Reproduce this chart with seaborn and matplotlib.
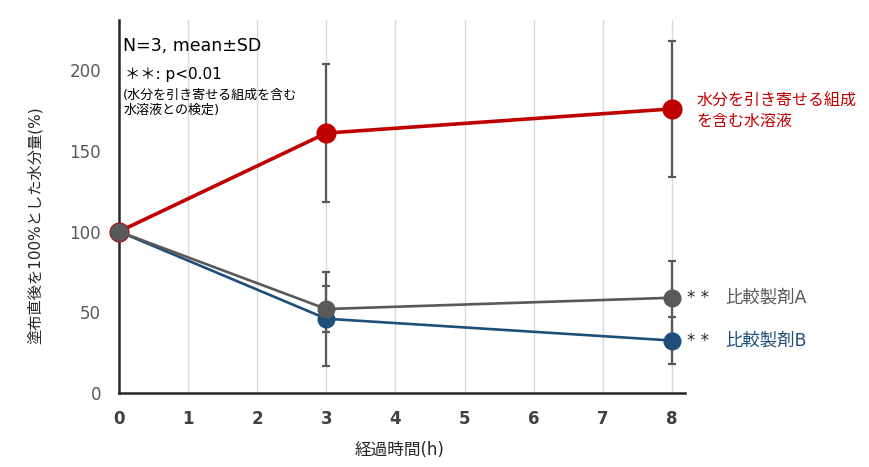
import numpy as np
import pandas as pd
import matplotlib
matplotlib.use('Agg')
import matplotlib.pyplot as plt
import seaborn as sns

# values
hours = [0, 3, 8]
series_names = ['水分を引き寄せる組成を含む水溶液', '比較製剤A', '比較製剤B']
mean_red = [100, 161, 176]
sd_red = [0, 43, 42]
mean_a = [100, 52, 59]
sd_a = [0, 14, 22.5]
mean_b = [100, 46, 32.5]
sd_b = [0, 29, 14.5]
x_ticks = [0, 1, 2, 3, 4, 5, 6, 7, 8]
y_ticks = [0, 50, 100, 150, 200]

colors = {'水分を引き寄せる組成を含む水溶液': '#C00000', '比較製剤A': '#595959', '比較製剤B': '#1F4E79'}

df = pd.DataFrame({
    'time': hours * 3,
    'value': mean_red + mean_a + mean_b,
    'sd': sd_red + sd_a + sd_b,
    'group': [s for s in series_names for _ in hours],
})

sns.set_style('white')
plt.rcParams['font.family'] = ['DejaVu Sans', 'Noto Sans CJK JP']

fig = plt.figure(figsize=(8.7, 4.67), dpi=100)
ax = fig.add_axes([0.1368, 0.1585, 0.6506, 0.7985])

# vertical grid lines
for xt in x_ticks[1:]:
    ax.axvline(xt, color='#D9D9D9', lw=1, zorder=0)

# error bars (drawn grey for every series)
for name in series_names:
    g = df[df['group'] == name]
    m = g['sd'] > 0
    ax.errorbar(g['time'][m], g['value'][m], yerr=g['sd'][m], fmt='none',
                ecolor='#595959', elinewidth=1.6, capsize=3.2, capthick=1.6, zorder=2)

# lines + markers (order: red, blue, grey so grey sits on top)
draw_order = [('水分を引き寄せる組成を含む水溶液', 2.6, 14.5), ('比較製剤B', 1.9, 13), ('比較製剤A', 1.9, 13)]
for i, (name, lw, ms) in enumerate(draw_order):
    g = df[df['group'] == name]
    sns.lineplot(data=g, x='time', y='value', ax=ax, color=colors[name], lw=lw,
                 marker='o', markersize=ms, markeredgewidth=0, legend=False,
                 zorder=3 + i, clip_on=False)

ax.set_xlim(0, 8.19)
ax.set_ylim(0, 231)
ax.set_xticks(x_ticks)
ax.set_yticks(y_ticks)
ax.tick_params(axis='x', length=0, pad=12)
ax.tick_params(axis='y', length=0, pad=13)
for lab in ax.get_xticklabels():
    lab.set_fontsize(12)
    lab.set_fontweight('bold')
    lab.set_color('#404040')
for lab in ax.get_yticklabels():
    lab.set_fontsize(12)
    lab.set_color('#595959')

for side in ['top', 'right']:
    ax.spines[side].set_visible(False)
for side in ['left', 'bottom']:
    ax.spines[side].set_color('#262626')
    ax.spines[side].set_linewidth(1.8)

ax.set_xlabel('経過時間(h)', fontsize=12, color='#262626')
ax.set_ylabel('塗布直後を100%とした水分量(%)', fontsize=11, color='#262626')
ax.xaxis.set_label_coords(0.496, -0.13)
ax.yaxis.set_label_coords(-0.134, 0.45)

# notes in the top-left corner
ax.text(0.06, 215, 'N=3, mean±SD', fontsize=12.5, color='#000000', va='center')
ax.text(0.08, 197, '＊＊: p<0.01', fontsize=11, color='#000000', va='center')
ax.text(0.06, 180, '(水分を引き寄せる組成を含む\n水溶液との検定)', fontsize=9.4,
        color='#000000', va='center', linespacing=1.2)

# series labels on the right
ax.text(8.36, 174.5, '水分を引き寄せる組成\nを含む水溶液', fontsize=11.5,
        color='#C00000', va='center', linespacing=1.35, clip_on=False)
ax.text(8.22, mean_a[-1], '* *', fontsize=12, color='#262626', va='center')
ax.text(8.77, mean_a[-1], '比較製剤A', fontsize=12.5, color='#595959', va='center')
ax.text(8.22, mean_b[-1], '* *', fontsize=12, color='#262626', va='center')
ax.text(8.77, mean_b[-1], '比較製剤B', fontsize=12.5, color='#1F4E79', va='center')

fig.savefig('out.png', dpi=100)
